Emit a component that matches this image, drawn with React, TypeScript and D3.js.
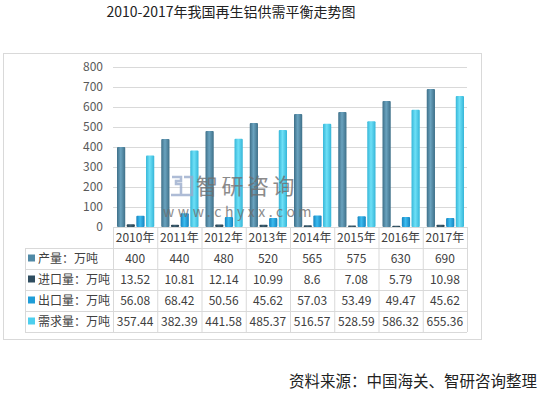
import * as d3 from "d3";

// data
const years = ["2010年", "2011年", "2012年", "2013年", "2014年", "2015年", "2016年", "2017年"];
const seriesNames = ["产量：万吨", "进口量：万吨", "出口量：万吨", "需求量：万吨"];
const production = [400, 440, 480, 520, 565, 575, 630, 690];
const imports = [13.52, 10.81, 12.14, 10.99, 8.6, 7.08, 5.79, 10.98];
const exports = [56.08, 68.42, 50.56, 45.62, 57.03, 53.49, 49.47, 45.62];
const demand = [357.44, 382.39, 441.58, 485.37, 516.57, 528.59, 586.32, 655.36];
const yTicks = [0, 100, 200, 300, 400, 500, 600, 700, 800];

const seriesValues = [production, imports, exports, demand];
// edge / center colours for the bar shading
const colors = [
  { edge: "#3e6f88", mid: "#6aa3bf", flat: "#5089a6" },
  { edge: "#243d4c", mid: "#3f6275", flat: "#2f4d5f" },
  { edge: "#1482bd", mid: "#3cbcf0", flat: "#1f9dd8" },
  { edge: "#35b6d8", mid: "#6ee0f7", flat: "#4dcfee" },
];

const font = "'Noto Sans CJK SC', 'Noto Sans', sans-serif";

export default function App() {
  const left = 113;
  const right = 467;
  const x0 = d3.scaleBand<string>().domain(years).range([left, right]);
  const x1 = d3
    .scaleBand<number>()
    .domain(d3.range(seriesValues.length))
    .range([4, x0.bandwidth() - 3])
    .paddingInner(0.15);
  const y = d3.scaleLinear().domain([0, 800]).range([227, 67]);

  const tableTop = y(0);
  const rowH = 21;
  const headerBottom = tableTop + 21;
  const tableBottom = headerBottom + rowH * 4;
  const legendLeft = 25;

  return (
    <svg
      width={540}
      height={394}
      style={{ position: "absolute", left: 0, top: 0, background: "#fff" }}
      fontFamily={font}
    >
      <defs>
        {colors.map((c, i) => (
          <linearGradient key={i} id={`bar${i}`} x1="0" x2="1" y1="0" y2="0">
            <stop offset="0%" stopColor={c.edge} />
            <stop offset="45%" stopColor={c.mid} />
            <stop offset="100%" stopColor={c.edge} />
          </linearGradient>
        ))}
      </defs>

      {/* title */}
      <text x={231} y={17} textAnchor="middle" fontSize={14} fill="#222">
        2010-2017年我国再生铝供需平衡走势图
      </text>

      {/* outer frame */}
      <rect x={3.5} y={53.5} width={478} height={286} fill="none" stroke="#d9d9d9" />

      {/* grid and y ticks */}
      {yTicks.map((t) => (
        <g key={t}>
          <line x1={left} x2={right} y1={y(t) + 0.5} y2={y(t) + 0.5} stroke="#d9d9d9" />
          <text x={103} y={y(t) + 4} textAnchor="end" fontSize={12} fill="#595959">
            {t}
          </text>
        </g>
      ))}

      {/* bars */}
      {seriesValues.map((vals, si) =>
        vals.map((v, i) => (
          <rect
            key={`${si}-${i}`}
            x={(x0(years[i]) ?? 0) + (x1(si) ?? 0)}
            y={y(v)}
            width={x1.bandwidth()}
            height={Math.max(1, y(0) - y(v))}
            rx={1}
            fill={`url(#bar${si})`}
          />
        ))
      )}

      {/* watermark, drawn over the bars */}
      <g opacity={0.8}>
        <path
          d="M172,177 h9 v4 h-5 v3 h5 v11 h-10 M184,177 h8 v18 h-10"
          fill="none"
          stroke="#9aaccc"
          strokeWidth={2.5}
        />
        <text x={196} y={194} fontSize={22} fill="#6f6f6f" letterSpacing={3.5}>
          智研咨询
        </text>
        <text x={163} y={217} fontSize={14} fill="#6f6f6f" letterSpacing={3.6}>
          www.chyxx.com
        </text>
      </g>

      {/* data table */}
      <g stroke="#d9d9d9" strokeWidth={1}>
        <line x1={legendLeft} x2={right} y1={headerBottom + 0.5} y2={headerBottom + 0.5} />
        {seriesNames.map((_, r) => (
          <line
            key={r}
            x1={legendLeft}
            x2={right}
            y1={headerBottom + rowH * (r + 1) + 0.5}
            y2={headerBottom + rowH * (r + 1) + 0.5}
          />
        ))}
        <line x1={legendLeft + 0.5} x2={legendLeft + 0.5} y1={headerBottom} y2={tableBottom} />
        {years.map((yr) => (
          <line
            key={yr}
            x1={(x0(yr) ?? 0) + 0.5}
            x2={(x0(yr) ?? 0) + 0.5}
            y1={tableTop}
            y2={tableBottom}
          />
        ))}
        <line x1={right + 0.5} x2={right + 0.5} y1={tableTop} y2={tableBottom} />
      </g>

      {years.map((yr) => (
        <text
          key={yr}
          x={(x0(yr) ?? 0) + x0.bandwidth() / 2}
          y={tableTop + 15}
          textAnchor="middle"
          fontSize={12}
          fill="#404040"
        >
          {yr}
        </text>
      ))}

      {seriesNames.map((name, r) => {
        const cy = headerBottom + rowH * r + rowH / 2;
        return (
          <g key={name}>
            <rect x={28} y={cy - 4} width={7} height={7} fill={colors[r].flat} />
            <text x={38} y={cy + 4.5} fontSize={12} fill="#404040">
              {name}
            </text>
            {seriesValues[r].map((v, i) => (
              <text
                key={i}
                x={(x0(years[i]) ?? 0) + x0.bandwidth() / 2}
                y={cy + 4.5}
                textAnchor="middle"
                fontSize={12}
                fill="#404040"
              >
                {v}
              </text>
            ))}
          </g>
        );
      })}

      {/* source */}
      <text x={537} y={387} textAnchor="end" fontSize={15.5} fill="#222">
        资料来源：中国海关、智研咨询整理
      </text>
    </svg>
  );
}
